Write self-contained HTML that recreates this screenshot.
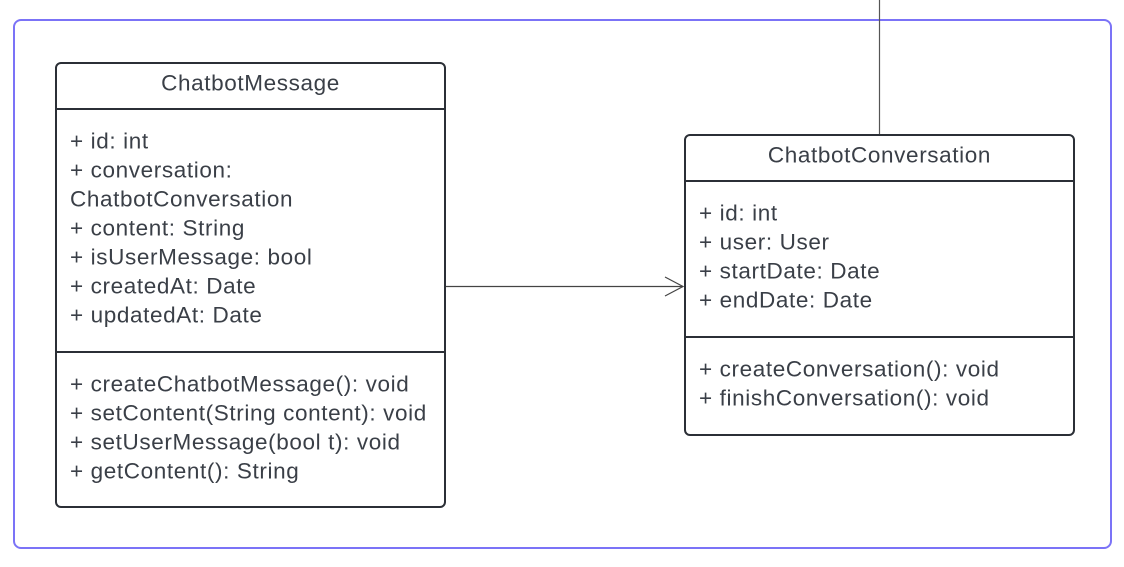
<!DOCTYPE html>
<html><head><style>body{margin:0;background:#fff}svg{display:block}</style></head><body>
<svg width="1124" height="567" xmlns="http://www.w3.org/2000/svg" font-family="Liberation Sans, Arial, sans-serif" font-size="22.5" letter-spacing="0.62" fill="#3a3f47">
<rect x="14" y="20" width="1097" height="528" rx="7" fill="none" stroke="#7b73f7" stroke-width="2"/>
<line x1="879.5" y1="0" x2="879.5" y2="135" stroke="#555" stroke-width="1.2"/>
<line x1="446" y1="286.5" x2="683" y2="286.5" stroke="#444" stroke-width="1.2"/>
<polyline points="665,277 683,286.5 665,296" fill="none" stroke="#444" stroke-width="1.2"/>
<g stroke="#2b2f36" stroke-width="2" fill="#fff">
<rect x="56" y="63" width="389" height="444" rx="5"/>
<line x1="56" y1="109" x2="445" y2="109"/>
<line x1="56" y1="352" x2="445" y2="352"/>
<rect x="685" y="135" width="389" height="300" rx="5"/>
<line x1="685" y1="181" x2="1074" y2="181"/>
<line x1="685" y1="337" x2="1074" y2="337"/>
</g>
<g dominant-baseline="central">
<text x="250.5" y="83" text-anchor="middle">ChatbotMessage</text>
<text x="70" y="141">+ id: int</text>
<text x="70" y="170">+ conversation:</text>
<text x="70" y="199">ChatbotConversation</text>
<text x="70" y="228">+ content: String</text>
<text x="70" y="257">+ isUserMessage: bool</text>
<text x="70" y="286">+ createdAt: Date</text>
<text x="70" y="315">+ updatedAt: Date</text>
<text x="70" y="384">+ createChatbotMessage(): void</text>
<text x="70" y="413">+ setContent(String content): void</text>
<text x="70" y="442">+ setUserMessage(bool t): void</text>
<text x="70" y="471">+ getContent(): String</text>
<text x="879.5" y="155" text-anchor="middle">ChatbotConversation</text>
<text x="699" y="213">+ id: int</text>
<text x="699" y="242">+ user: User</text>
<text x="699" y="271">+ startDate: Date</text>
<text x="699" y="300">+ endDate: Date</text>
<text x="699" y="369">+ createConversation(): void</text>
<text x="699" y="398">+ finishConversation(): void</text>
</g>
</svg>
</body></html>
